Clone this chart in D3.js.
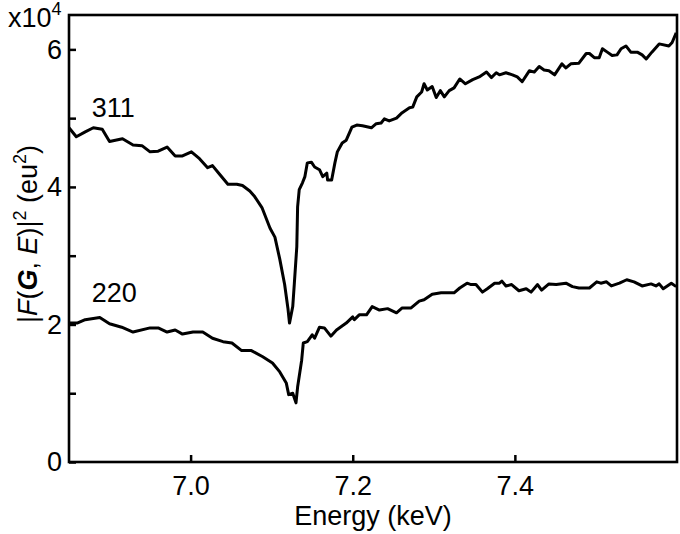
<!DOCTYPE html>
<html>
<head>
<meta charset="utf-8">
<script src="https://cdn.jsdelivr.net/npm/d3@7"></script>
<style>
  body { margin: 0; background: #fff; }
  svg text { font-family: "Liberation Sans", Arial, sans-serif; fill: #000; }
</style>
</head>
<body>
<div id="chart"></div>
<script>
// energies (keV) and |F|^2 values (x10^4 eu^2)
let energy311 = [6.850, 6.859, 6.870, 6.880, 6.891, 6.900, 6.916, 6.929, 6.940, 6.950, 6.960, 6.971, 6.981, 6.990,
  7.001, 7.011, 7.021, 7.027, 7.036, 7.046, 7.057, 7.064, 7.073, 7.079, 7.088, 7.098, 7.104, 7.110, 7.116, 7.120,
  7.122, 7.126, 7.128, 7.131, 7.132, 7.134, 7.138, 7.141, 7.144, 7.149, 7.153, 7.159, 7.163, 7.168, 7.169, 7.174,
  7.178, 7.181, 7.187, 7.192, 7.199, 7.205, 7.212, 7.223, 7.229, 7.235, 7.239, 7.245, 7.254, 7.261, 7.270, 7.274,
  7.279, 7.285, 7.288, 7.292, 7.298, 7.303, 7.308, 7.313, 7.319, 7.325, 7.332, 7.339, 7.348, 7.356, 7.365, 7.371,
  7.377, 7.381, 7.389, 7.397, 7.403, 7.409, 7.418, 7.424, 7.430, 7.436, 7.442, 7.449, 7.458, 7.463, 7.469, 7.479,
  7.488, 7.492, 7.498, 7.504, 7.508, 7.514, 7.520, 7.526, 7.531, 7.537, 7.543, 7.551, 7.557, 7.562, 7.569, 7.578,
  7.590, 7.594, 7.599];
let value311 = [4.86, 4.73, 4.80, 4.86, 4.84, 4.66, 4.70, 4.61, 4.60, 4.51, 4.52, 4.58, 4.45, 4.45,
  4.51, 4.41, 4.28, 4.31, 4.18, 4.04, 4.04, 4.02, 3.94, 3.86, 3.70, 3.40, 3.27, 2.95, 2.58, 2.24,
  2.02, 2.26, 2.60, 3.13, 3.71, 3.96, 4.06, 4.15, 4.35, 4.36, 4.29, 4.25, 4.15, 4.20, 4.10, 4.10,
  4.35, 4.51, 4.64, 4.68, 4.87, 4.90, 4.89, 4.86, 4.92, 4.93, 4.99, 4.96, 5.00, 5.08, 5.15, 5.16,
  5.31, 5.38, 5.50, 5.41, 5.46, 5.30, 5.40, 5.31, 5.40, 5.44, 5.57, 5.50, 5.56, 5.60, 5.67, 5.59,
  5.66, 5.63, 5.66, 5.63, 5.60, 5.53, 5.69, 5.67, 5.75, 5.70, 5.69, 5.63, 5.79, 5.73, 5.79, 5.80,
  5.94, 5.94, 5.88, 5.88, 6.01, 5.96, 5.91, 5.92, 6.01, 6.05, 5.96, 5.96, 5.92, 5.86, 5.96, 6.08,
  6.05, 6.10, 6.24];

let energy220 = [6.851, 6.860, 6.870, 6.888, 6.900, 6.915, 6.929, 6.950, 6.960, 6.971, 6.981, 6.990, 7.003, 7.015,
  7.027, 7.040, 7.051, 7.063, 7.075, 7.089, 7.101, 7.110, 7.118, 7.121, 7.126, 7.130, 7.132, 7.137, 7.139, 7.144,
  7.150, 7.153, 7.159, 7.165, 7.173, 7.180, 7.192, 7.200, 7.202, 7.208, 7.217, 7.224, 7.233, 7.243, 7.254, 7.261,
  7.272, 7.282, 7.288, 7.298, 7.309, 7.319, 7.325, 7.332, 7.341, 7.346, 7.352, 7.360, 7.366, 7.375, 7.381, 7.384,
  7.389, 7.396, 7.405, 7.414, 7.420, 7.428, 7.433, 7.442, 7.451, 7.463, 7.471, 7.479, 7.492, 7.501, 7.506, 7.513,
  7.519, 7.529, 7.538, 7.547, 7.557, 7.568, 7.574, 7.578, 7.583, 7.593, 7.599];
let value220 = [2.02, 2.02, 2.07, 2.10, 2.01, 1.96, 1.89, 1.95, 1.95, 1.89, 1.92, 1.86, 1.89, 1.89,
  1.80, 1.75, 1.73, 1.62, 1.62, 1.53, 1.44, 1.31, 1.15, 0.98, 1.00, 0.86, 1.09, 1.48, 1.73, 1.75,
  1.85, 1.80, 1.96, 1.95, 1.83, 1.92, 2.02, 2.11, 2.07, 2.14, 2.14, 2.26, 2.21, 2.23, 2.17, 2.24,
  2.24, 2.34, 2.36, 2.44, 2.46, 2.46, 2.46, 2.53, 2.60, 2.58, 2.58, 2.47, 2.52, 2.60, 2.60, 2.63,
  2.56, 2.58, 2.49, 2.52, 2.47, 2.58, 2.50, 2.59, 2.58, 2.60, 2.55, 2.53, 2.53, 2.62, 2.60, 2.62,
  2.56, 2.60, 2.65, 2.62, 2.56, 2.59, 2.56, 2.59, 2.52, 2.60, 2.55];

let xTicks = [7.0, 7.2, 7.4];
let yTicks = [0, 1, 2, 3, 4, 5, 6];
let yTickLabels = ['0', '', '2', '', '4', '', '6'];
let seriesNames = ['311', '220'];

let width = 680;
let height = 534;
let margin = { top: 15, right: 3, bottom: 72, left: 69 };
let fontSize = 27;

let svg = d3.select('#chart').append('svg')
  .attr('width', width)
  .attr('height', height);

let x = d3.scaleLinear()
  .domain([6.85, 7.6])
  .range([margin.left, width - margin.right]);

let y = d3.scaleLinear()
  .domain([0, 6.5])
  .range([height - margin.bottom, margin.top]);

// x axis, ticks pointing inward
let xAxis = d3.axisBottom(x)
  .tickValues(xTicks)
  .tickFormat(d3.format('.1f'))
  .tickSizeInner(-7)
  .tickSizeOuter(0)
  .tickPadding(14);

let gx = svg.append('g')
  .attr('transform', `translate(0,${height - margin.bottom})`)
  .call(xAxis);

let yAxis = d3.axisLeft(y)
  .tickValues(yTicks)
  .tickFormat((d, i) => yTickLabels[i])
  .tickSizeInner(-7)
  .tickSizeOuter(0)
  .tickPadding(7);

let gy = svg.append('g')
  .attr('transform', `translate(${margin.left},0)`)
  .call(yAxis);

for (let g of [gx, gy]) {
  g.select('.domain').remove();
  g.selectAll('line').attr('stroke', '#000').attr('stroke-width', 2.5);
  g.selectAll('text')
    .style('font-family', '"Liberation Sans", Arial, sans-serif')
    .style('font-size', fontSize + 'px')
    .attr('fill', '#000');
}

// frame
svg.append('rect')
  .attr('x', margin.left)
  .attr('y', margin.top)
  .attr('width', width - margin.left - margin.right)
  .attr('height', height - margin.top - margin.bottom)
  .attr('fill', 'none')
  .attr('stroke', '#000')
  .attr('stroke-width', 2.6);

let line = d3.line()
  .x((d) => x(d[0]))
  .y((d) => y(d[1]));

let series = [
  d3.zip(energy311, value311),
  d3.zip(energy220, value220)
];

svg.append('g')
  .selectAll('path')
  .data(series)
  .enter()
  .append('path')
  .attr('d', line)
  .attr('fill', 'none')
  .attr('stroke', '#000')
  .attr('stroke-width', 3)
  .attr('stroke-linejoin', 'round');

// series labels
let labelPos = [[6.878, 5.02], [6.878, 2.33]];
svg.append('g')
  .selectAll('text')
  .data(seriesNames)
  .enter()
  .append('text')
  .attr('x', (d, i) => x(labelPos[i][0]))
  .attr('y', (d, i) => y(labelPos[i][1]))
  .style('font-size', fontSize + 'px')
  .text((d) => d);

// exponent
let expo = svg.append('text')
  .attr('x', 8)
  .attr('y', 27)
  .style('font-size', fontSize + 'px');
expo.append('tspan').text('x10');
expo.append('tspan').attr('dy', -12).style('font-size', '18px').text('4');

// x label
svg.append('text')
  .attr('x', (margin.left + width - margin.right) / 2)
  .attr('y', 525)
  .attr('text-anchor', 'middle')
  .style('font-size', fontSize + 'px')
  .text('Energy (keV)');

// y label
let yl = svg.append('text')
  .attr('transform', 'translate(37,234) rotate(-90)')
  .attr('text-anchor', 'middle')
  .style('font-size', fontSize + 'px');
yl.append('tspan').text('|');
yl.append('tspan').style('font-style', 'italic').text('F');
yl.append('tspan').text('(');
yl.append('tspan').style('font-style', 'italic').style('font-weight', 'bold').text('G');
yl.append('tspan').text(', ');
yl.append('tspan').style('font-style', 'italic').text('E');
yl.append('tspan').text(')|');
yl.append('tspan').attr('dy', -11).style('font-size', '18px').text('2');
yl.append('tspan').attr('dy', 11).text(' (eu');
yl.append('tspan').attr('dy', -11).style('font-size', '18px').text('2');
yl.append('tspan').attr('dy', 11).text(')');
</script>
</body>
</html>
